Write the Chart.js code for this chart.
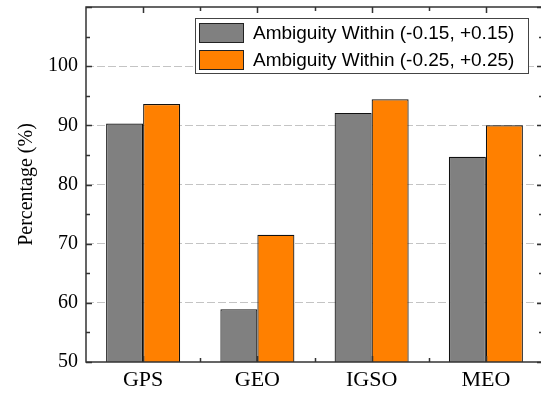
<!DOCTYPE html>
<html>
<head>
    <title>Ambiguity Percentage</title>
    <script src="https://cdn.jsdelivr.net/npm/chart.js@4.4.0/dist/chart.umd.min.js"></script>
    <style>
        html, body {
            margin: 0;
            padding: 0;
            background: #fff;
            overflow: hidden;
        }
        .wrap {
            width: 544px;
            height: 393px;
            position: relative;
        }
    </style>
</head>
<body>
    <div class="wrap">
        <canvas id="chart"></canvas>
    </div>

    <script>
        const systems = ['GPS', 'GEO', 'IGSO', 'MEO'];
        const within015 = [90.3, 58.9, 92.1, 84.7];
        const within025 = [93.6, 71.5, 94.4, 90.0];
        const seriesLabels = ['Ambiguity Within (-0.15, +0.15)', 'Ambiguity Within (-0.25, +0.25)'];
        const yTicks = [50, 60, 70, 80, 90, 100, 110];

        const serif = "'Liberation Serif', 'Times New Roman', serif";
        const sans = "'Liberation Sans', Arial, sans-serif";

        // frame round the plot plus inward tick marks on all four sides
        const frameTicks = {
            id: 'frameTicks',
            afterDraw(chart) {
                const ctx = chart.ctx;
                const a = chart.chartArea;
                const x = chart.scales.x;
                const y = chart.scales.y;
                ctx.save();
                ctx.strokeStyle = '#333';
                ctx.lineWidth = 1.5;
                ctx.beginPath();
                const tick = (x1, y1, x2, y2) => { ctx.moveTo(x1, y1); ctx.lineTo(x2, y2); };
                // y ticks: major every 10, minor every 5
                for (let v = yTicks[0]; v <= yTicks[yTicks.length - 1]; v += 5) {
                    const py = Math.round(y.getPixelForValue(v)) + 0.5;
                    const len = v % 10 === 0 ? 6 : 4;
                    tick(a.left, py, a.left + len, py);
                    tick(a.right, py, a.right - len, py);
                }
                // x ticks: major at category centres, minor between them
                for (let i = 0; i < systems.length; i++) {
                    const px = Math.round(x.getPixelForValue(i)) + 0.5;
                    tick(px, a.top, px, a.top + 6);
                    tick(px, a.bottom, px, a.bottom - 6);
                    if (i > 0) {
                        const mx = Math.round((x.getPixelForValue(i) + x.getPixelForValue(i - 1)) / 2) + 0.5;
                        tick(mx, a.top, mx, a.top + 4);
                        tick(mx, a.bottom, mx, a.bottom - 4);
                    }
                }
                ctx.stroke();
                ctx.strokeRect(a.left, a.top, a.right - a.left, a.bottom - a.top);
                ctx.restore();
            }
        };

        // boxed legend in the upper right of the plot
        const boxLegend = {
            id: 'boxLegend',
            afterDraw(chart) {
                const ctx = chart.ctx;
                const a = chart.chartArea;
                const bx = a.left + 109, by = a.top + 11, bw = 333, bh = 55;
                ctx.save();
                ctx.fillStyle = '#fff';
                ctx.fillRect(bx, by, bw, bh);
                ctx.strokeStyle = '#444';
                ctx.lineWidth = 1;
                ctx.strokeRect(bx + 0.5, by + 0.5, bw, bh);
                ctx.font = '19px ' + sans;
                ctx.textBaseline = 'middle';
                chart.data.datasets.forEach((ds, i) => {
                    const sy = by + 5 + i * 27;
                    ctx.fillStyle = ds.backgroundColor;
                    ctx.fillRect(bx + 4, sy, 44, 19);
                    ctx.strokeStyle = '#222';
                    ctx.strokeRect(bx + 4.5, sy + 0.5, 44, 19);
                    ctx.fillStyle = '#000';
                    ctx.fillText(ds.label, bx + 58, sy + 10.5);
                });
                ctx.restore();
            }
        };

        new Chart(document.getElementById('chart'), {
            type: 'bar',
            data: {
                labels: systems,
                datasets: [
                    {
                        label: seriesLabels[0],
                        data: within015,
                        backgroundColor: '#808080',
                        borderColor: '#111',
                        borderWidth: 1.2,
                        borderSkipped: false
                    },
                    {
                        label: seriesLabels[1],
                        data: within025,
                        backgroundColor: '#ff8000',
                        borderColor: '#111',
                        borderWidth: 1.2,
                        borderSkipped: false
                    }
                ]
            },
            options: {
                responsive: true,
                maintainAspectRatio: false,
                animation: false,
                layout: { padding: { top: 7, right: 1, left: 0, bottom: 0 } },
                datasets: {
                    bar: { barPercentage: 1, categoryPercentage: 0.648 }
                },
                plugins: {
                    legend: { display: false },
                    tooltip: { enabled: false }
                },
                scales: {
                    x: {
                        grid: { display: false, drawTicks: false },
                        border: { display: false },
                        ticks: {
                            color: '#000',
                            font: { family: serif, size: 22 },
                            padding: 5
                        },
                        afterFit(scale) {
                            scale.height = 31;
                            scale.paddingLeft = 0;
                            scale.paddingRight = 0;
                        }
                    },
                    y: {
                        min: 50,
                        max: 110,
                        afterBuildTicks(scale) {
                            scale.ticks = yTicks.map(v => ({ value: v }));
                        },
                        grid: {
                            drawTicks: false,
                            color: ctx => (ctx.tick && (ctx.tick.value === 50 || ctx.tick.value === 110)) ? 'rgba(0,0,0,0)' : '#c4c4c4',
                            lineWidth: 1
                        },
                        border: { display: false, dash: [8, 3] },
                        ticks: {
                            color: '#000',
                            font: { family: serif, size: 20 },
                            padding: 8,
                            callback: v => v === 110 ? '' : v
                        },
                        title: {
                            display: true,
                            text: 'Percentage (%)',
                            color: '#000',
                            font: { family: serif, size: 20 },
                            padding: { top: 15, bottom: 0 }
                        },
                        afterFit(scale) {
                            scale.width = 86;
                            scale.paddingTop = 0;
                            scale.paddingBottom = 0;
                        }
                    }
                }
            },
            plugins: [frameTicks, boxLegend]
        });
    </script>
</body>
</html>
